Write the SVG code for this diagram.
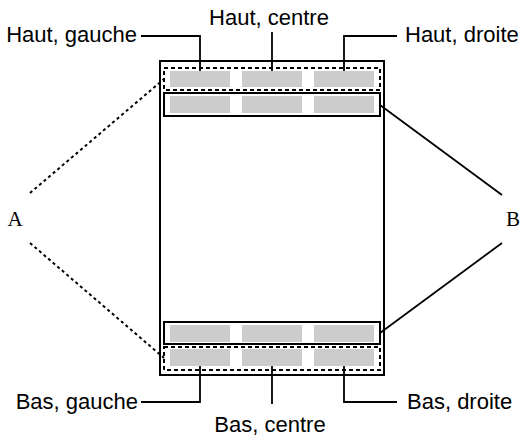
<svg xmlns="http://www.w3.org/2000/svg" width="526" height="437" viewBox="0 0 526 437">
<style>
.lbl{font-family:"Liberation Sans",Arial,sans-serif;font-size:22px;fill:#000}
.ab{font-family:"Liberation Serif","Times New Roman",serif;font-size:21px;fill:#000}
.cell{fill:#cccccc}
.solid{fill:none;stroke:#000;stroke-width:2}
.dash{fill:none;stroke:#000;stroke-width:2;stroke-dasharray:4 3}
.ln{fill:none;stroke:#000;stroke-width:1.8}
.dot{fill:none;stroke:#000;stroke-width:2;stroke-dasharray:3 3}
</style>
<rect width="526" height="437" fill="#fff"/>
<g id="page">
<rect class="solid" x="160" y="61" width="224" height="314"/>
</g>
<g id="header-dashed">
<rect class="cell" x="170" y="71" width="60" height="16"/>
<rect class="cell" x="242" y="71" width="60" height="16"/>
<rect class="cell" x="314" y="71" width="60" height="16"/>
<rect class="dash" x="164" y="68" width="216" height="22"/>
</g>
<g id="header-solid">
<rect class="cell" x="170" y="96" width="60" height="17"/>
<rect class="cell" x="242" y="96" width="60" height="17"/>
<rect class="cell" x="314" y="96" width="60" height="17"/>
<rect class="solid" x="164" y="93" width="216" height="23"/>
</g>
<g id="footer-solid">
<rect class="cell" x="170" y="325" width="60" height="17"/>
<rect class="cell" x="242" y="325" width="60" height="17"/>
<rect class="cell" x="314" y="325" width="60" height="17"/>
<rect class="solid" x="164" y="322" width="216" height="22"/>
</g>
<g id="footer-dashed">
<rect class="cell" x="170" y="349" width="60" height="17"/>
<rect class="cell" x="242" y="349" width="60" height="17"/>
<rect class="cell" x="314" y="349" width="60" height="17"/>
<rect class="dash" x="164" y="347" width="216" height="23"/>
</g>
<g id="connectors">
<polyline class="ln" points="141,36 200,36 200,71"/>
<polyline class="ln" points="272,32 272,71"/>
<polyline class="ln" points="397,36 344,36 344,71"/>
<polyline class="ln" points="141,402 200,402 200,366"/>
<polyline class="ln" points="272,404 272,366"/>
<polyline class="ln" points="397,402 344,402 344,366"/>
<line class="dot" x1="30" y1="193" x2="164" y2="79"/>
<line class="dot" x1="30" y1="243" x2="164" y2="358"/>
<line class="ln" x1="380" y1="105" x2="502" y2="195"/>
<line class="ln" x1="380" y1="333" x2="502" y2="243"/>
</g>
<g id="labels">
<text class="lbl" x="137" y="42" text-anchor="end">Haut, gauche</text>
<text class="lbl" x="269" y="25" text-anchor="middle">Haut, centre</text>
<text class="lbl" x="405" y="42">Haut, droite</text>
<text class="lbl" x="138" y="409" text-anchor="end">Bas, gauche</text>
<text class="lbl" x="270" y="432" text-anchor="middle">Bas, centre</text>
<text class="lbl" x="407" y="409">Bas, droite</text>
<text class="ab" x="15" y="226" text-anchor="middle">A</text>
<text class="ab" x="513" y="226" text-anchor="middle">B</text>
</g>
</svg>
